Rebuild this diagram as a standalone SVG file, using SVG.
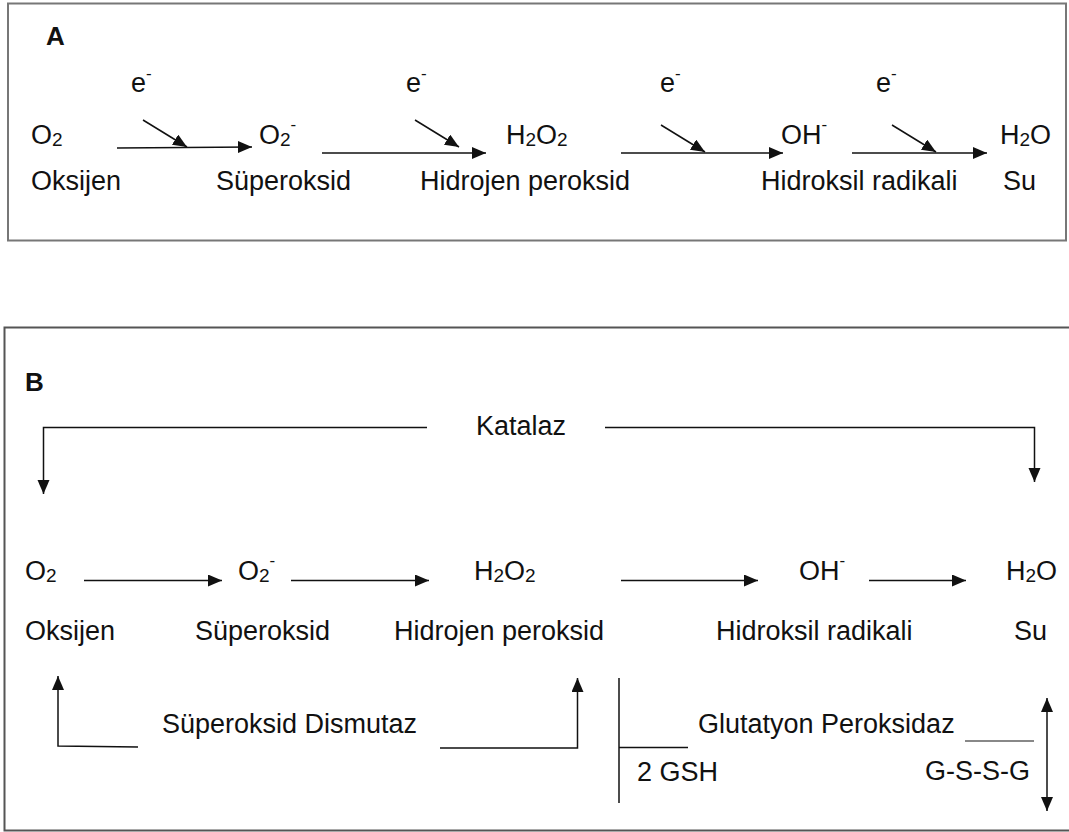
<svg xmlns="http://www.w3.org/2000/svg" width="1069" height="832" viewBox="0 0 1069 832">
<style>
text{font-family:"Liberation Sans",Arial,sans-serif;font-size:27px;fill:#111}
.lbl{font-weight:bold;font-size:26px;fill:#111}
.sub{font-size:19px}
.sup{font-size:17px}
.ln{fill:none;stroke:#111;stroke-width:1.5}
.ar{fill:none;stroke:#111;stroke-width:1.5;marker-end:url(#ah)}
.gray{fill:none;stroke:#888;stroke-width:1.8}
</style>
<defs>
<marker id="ah" markerUnits="userSpaceOnUse" markerWidth="15" markerHeight="13" refX="14" refY="6" orient="auto">
<path d="M0,0 L14,6 L0,12 z" fill="#111"/>
</marker>
<marker id="ahs" markerUnits="userSpaceOnUse" markerWidth="15" markerHeight="13" refX="14" refY="6" orient="auto-start-reverse">
<path d="M0,0 L14,6 L0,12 z" fill="#111"/>
</marker>
</defs>
<rect width="1069" height="832" fill="#fff"/>
<!-- Panel A -->
<rect id="panelA" x="8" y="3.5" width="1058" height="237" fill="none" stroke="#777" stroke-width="2"/>
<g id="A-label"><text class="lbl" x="46" y="45">A</text></g>
<g id="A-e1"><text x="131" y="92">e<tspan class="sup" dy="-13">-</tspan></text></g>
<g id="A-e2"><text x="406" y="92">e<tspan class="sup" dy="-13">-</tspan></text></g>
<g id="A-e3"><text x="660" y="92">e<tspan class="sup" dy="-13">-</tspan></text></g>
<g id="A-e4"><text x="876" y="92">e<tspan class="sup" dy="-13">-</tspan></text></g>
<g id="A-O2"><text x="31" y="144">O<tspan class="sub" dy="2">2</tspan></text><text x="31" y="190">Oksijen</text></g>
<g id="A-O2minus"><text x="259" y="144">O<tspan class="sub" dy="2">2</tspan><tspan class="sup" dy="-16">-</tspan></text><text x="216" y="190">Süperoksid</text></g>
<g id="A-H2O2"><text x="506" y="144">H<tspan class="sub" dy="2">2</tspan><tspan dy="-2">O</tspan><tspan class="sub" dy="2">2</tspan></text><text x="420" y="190">Hidrojen peroksid</text></g>
<g id="A-OH"><text x="781" y="144">OH<tspan class="sup" dy="-14">-</tspan></text><text x="761" y="190">Hidroksil radikali</text></g>
<g id="A-H2O"><text x="1000" y="144">H<tspan class="sub" dy="2">2</tspan><tspan dy="-2">O</tspan></text><text x="1003" y="190">Su</text></g>
<g id="A-connectors">
<path class="ar" d="M117,148 L252,147"/>
<path class="ar" d="M143,120 L187,147"/>
<path class="ar" d="M322,153 L486,153"/>
<path class="ar" d="M415,120 L459,147"/>
<path class="ar" d="M621,153 L783,153"/>
<path class="ar" d="M661,125 L705,152"/>
<path class="ar" d="M852,153 L987,153"/>
<path class="ar" d="M892,125 L936,152"/>
</g>
<!-- Panel B -->
<path id="panelB" d="M1075,327.5 L4.5,327.5 L4.5,830.5 L1075,830.5" fill="none" stroke="#555" stroke-width="2"/>
<g id="B-label"><text class="lbl" x="25" y="391">B</text></g>
<g id="B-katalaz"><text x="476" y="435">Katalaz</text></g>
<g id="B-O2"><text x="25" y="580">O<tspan class="sub" dy="2">2</tspan></text><text x="25" y="640">Oksijen</text></g>
<g id="B-O2minus"><text x="238" y="580">O<tspan class="sub" dy="2">2</tspan><tspan class="sup" dy="-16">-</tspan></text><text x="195" y="640">Süperoksid</text></g>
<g id="B-H2O2"><text x="474" y="580">H<tspan class="sub" dy="2">2</tspan><tspan dy="-2">O</tspan><tspan class="sub" dy="2">2</tspan></text><text x="394" y="640">Hidrojen peroksid</text></g>
<g id="B-OH"><text x="799" y="580">OH<tspan class="sup" dy="-14">-</tspan></text><text x="716" y="640">Hidroksil radikali</text></g>
<g id="B-H2O"><text x="1006" y="580">H<tspan class="sub" dy="2">2</tspan><tspan dy="-2">O</tspan></text><text x="1014" y="640">Su</text></g>
<g id="B-sod"><text x="162" y="733">Süperoksid Dismutaz</text></g>
<g id="B-gpx"><text x="698" y="733">Glutatyon Peroksidaz</text></g>
<g id="B-gsh"><text x="637" y="781">2 GSH</text></g>
<g id="B-gssg"><text x="925" y="780">G-S-S-G</text></g>
<g id="B-connectors">
<path class="ar" d="M84,580.5 L222,580.5"/>
<path class="ar" d="M291,580.5 L429,580.5"/>
<path class="ar" d="M621,580.5 L758,580.5"/>
<path class="ar" d="M869,580.5 L966,580.5"/>
<path class="ar" d="M427,427.5 L43.5,427.5 L43.5,494"/>
<path class="ar" d="M605,427.5 L1034.5,427.5 L1034.5,482"/>
<path class="ar" d="M138,747 L58,746 L58,676"/>
<path class="ar" d="M440,748 L577.5,748 L577.5,678"/>
<path class="ln" d="M619,678 L619,803"/>
<path class="ln" d="M619,747.5 L688,747.5"/>
<path class="gray" d="M965,741 L1034,741"/>
<path class="ar" d="M1047,698 L1047,811" marker-start="url(#ahs)"/>
</g>
</svg>
